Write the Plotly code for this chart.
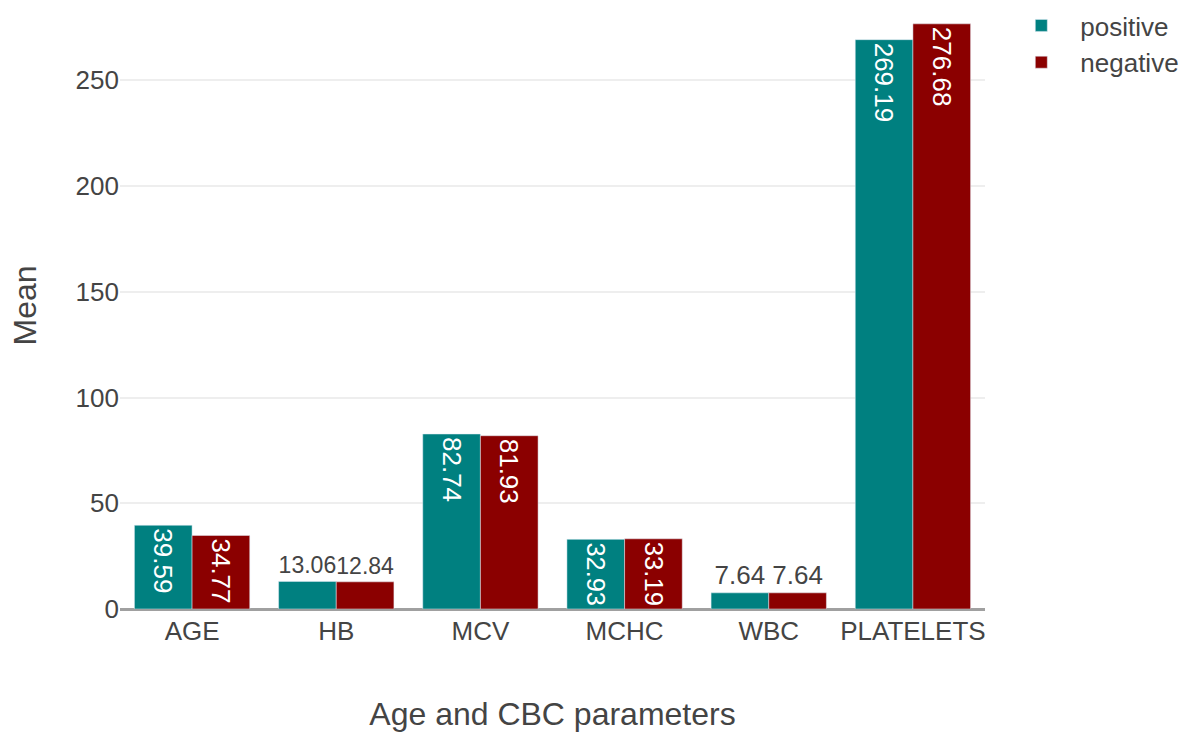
import plotly.graph_objects as go

# Mean age and CBC values by test result
categories = ["AGE", "HB", "MCV", "MCHC", "WBC", "PLATELETS"]
positive_mean = [39.59, 13.06, 82.74, 32.93, 7.64, 269.19]
negative_mean = [34.77, 12.84, 81.93, 33.19, 7.64, 276.68]
y_ticks = [0, 50, 100, 150, 200, 250]

TEAL = "#008080"
DARKRED = "#8B0000"
FONT = "Liberation Sans, Arial, sans-serif"

fig = go.Figure()
for name, vals, color in [("positive", positive_mean, TEAL),
                          ("negative", negative_mean, DARKRED)]:
    fig.add_trace(go.Bar(
        name=name,
        x=categories,
        y=vals,
        text=[f"{v:.2f}" for v in vals],
        textposition="auto",
        insidetextfont=dict(color="white"),
        outsidetextfont=dict(color="#444"),
        marker=dict(color=color, line=dict(color="#E5ECF6", width=0.5)),
    ))

fig.update_layout(
    width=1189,
    height=732,
    barmode="group",
    bargap=0.2,
    bargroupgap=0,
    plot_bgcolor="white",
    paper_bgcolor="white",
    font=dict(family=FONT, size=26, color="#444"),
    margin=dict(l=120, r=204, t=2, b=123),
    legend=dict(x=1.02, y=1, xanchor="left", yanchor="top",
                itemwidth=68, tracegroupgap=0,
                font=dict(size=26)),
    xaxis=dict(
        title=dict(text="Age and CBC parameters", font=dict(size=32), standoff=64),
        automargin=False,
        showgrid=False,
        showline=False,
        ticks="",
        ticklabelstandoff=4,
    ),
    yaxis=dict(
        title=dict(text="Mean", font=dict(size=32), standoff=29),
        automargin=False,
        range=[0, 287],
        tickvals=y_ticks,
        showgrid=True,
        gridcolor="#eeeeee",
        gridwidth=1.5,
        zeroline=True,
        zerolinecolor="#a0a0a0",
        zerolinewidth=2.5,
        ticks="",
    ),
)

fig.write_html("out.html")
